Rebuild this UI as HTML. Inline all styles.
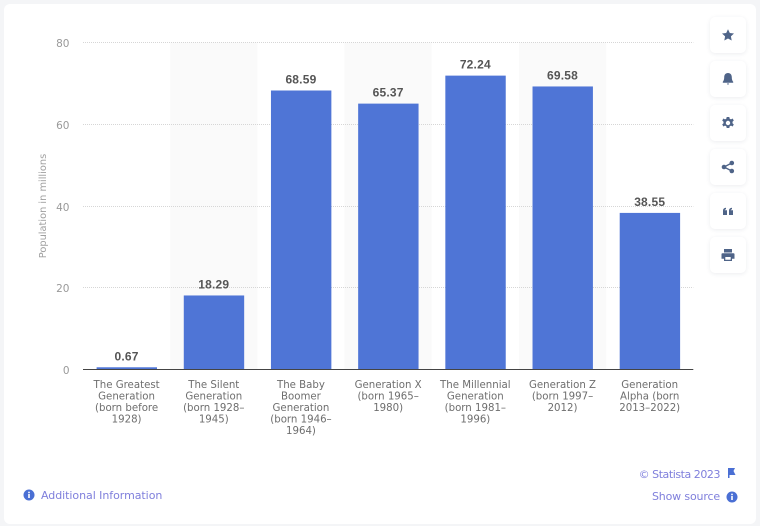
<!DOCTYPE html>
<html lang="en">
<head>
<meta charset="utf-8">
<title>Population by generation</title>
<style>
html,body{margin:0;padding:0;width:760px;height:526px;overflow:hidden;background:#f4f5f7;}
body{position:relative;font-family:"DejaVu Sans","Liberation Sans",sans-serif;}
#card{position:absolute;left:4px;top:4px;width:752px;height:520px;background:#fff;border-radius:6px;}
#chart{position:absolute;left:0;top:0;}
.btn{position:absolute;left:710px;width:36px;height:36px;background:#fff;border-radius:5px;box-shadow:0 1px 4px rgba(40,60,90,.09);}
.btn svg{position:absolute;left:9px;top:9px;width:18px;height:18px;fill:#4f6488;}
.link{position:absolute;font-size:11px;color:#7f7fdc;white-space:nowrap;line-height:14px;}
.ic{position:absolute;}
</style>
</head>
<body>
<div id="card"></div>
<svg id="chart" width="760" height="526"></svg>

<div class="btn" style="top:17px"><svg viewBox="0 0 18 18"><path d="M9 3.200l1.800 3.800 4.200.5-3.100 2.900.8 4.100L9 12.500l-3.700 2 .8-4.100L3 7.500l4.200-.5z"/></svg></div>
<div class="btn" style="top:61px"><svg viewBox="0 0 18 18"><path d="M9 3c2.600 0 3.800 2 3.800 4.200 0 2.400.7 3.600 1.400 4.600v.9H3.800v-.9c.7-1 1.400-2.200 1.400-4.600C5.200 5 6.400 3 9 3zM7.800 13.500h2.400L9 15z"/></svg></div>
<div class="btn" style="top:105px"><svg viewBox="0 0 18 18"><path fill-rule="evenodd" d="M7.700 3h2.600l.4 1.800 1.300.6 1.600-.9 1.200 2-1.300 1.300v1.400l1.300 1.300-1.200 2-1.600-.9-1.300.6-.4 1.800H7.700l-.4-1.800-1.300-.6-1.600.9-1.200-2 1.300-1.300V7.800L3.200 6.500l1.200-2 1.600.9 1.300-.6zM9 6.800a2.200 2.200 0 100 4.400 2.200 2.200 0 000-4.400z"/></svg></div>
<div class="btn" style="top:149px"><svg viewBox="0 0 18 18"><circle cx="5" cy="9" r="2.300"/><circle cx="12.800" cy="5" r="2.300"/><circle cx="12.800" cy="13" r="2.300"/><path d="M5 9l7.800-4M5 9l7.800 4" stroke="#4f6488" stroke-width="1.300" fill="none"/></svg></div>
<div class="btn" style="top:193px"><svg viewBox="0 0 18 18"><path d="M4 8.500c0-1.500 1-2.500 3-2.700v1.400c-.8.100-1.200.4-1.300 1H8V13H4zM10 8.500c0-1.500 1-2.500 3-2.700v1.400c-.8.100-1.200.4-1.300 1H14V13h-4z"/></svg></div>
<div class="btn" style="top:237px"><svg viewBox="0 0 18 18"><path fill-rule="evenodd" d="M5 3h8v3.500H5zM3.500 7.300h11c.6 0 1 .4 1 1V12.800H13V15H5v-2.200H2.500V8.300c0-.6.4-1 1-1zM6.300 11v2.800h5.400V11z"/></svg></div>

<svg class="ic" style="left:23px;top:489px" width="12" height="12" viewBox="0 0 12 12"><circle cx="6" cy="6" r="5.500" fill="#4a6fd4"/><rect x="5.200" y="5" width="1.600" height="4" fill="#fff"/><rect x="5.200" y="2.700" width="1.600" height="1.500" fill="#fff"/></svg>
<div class="link" style="left:41px;top:489px;letter-spacing:-.05px">Additional Information</div>
<div class="link" style="right:40px;top:468px;letter-spacing:-.45px">© Statista 2023</div>
<svg class="ic" style="left:727px;top:468px" width="10" height="11" viewBox="0 0 10 11"><path d="M1 0h7L6.500 3 8.500 7H2.500v3H1z" fill="#4a6fd4"/></svg>
<div class="link" style="right:40px;top:490px;letter-spacing:-.15px">Show source</div>
<svg class="ic" style="left:725.500px;top:491px" width="12" height="12" viewBox="0 0 12 12"><circle cx="6" cy="6" r="5.500" fill="#4a6fd4"/><rect x="5.200" y="5" width="1.600" height="4" fill="#fff"/><rect x="5.200" y="2.700" width="1.600" height="1.500" fill="#fff"/></svg>

<script>
const categoryLines = [
  ["The Greatest","Generation","(born before","1928)"],
  ["The Silent","Generation","(born 1928–","1945)"],
  ["The Baby","Boomer","Generation","(born 1946–","1964)"],
  ["Generation X","(born 1965–","1980)"],
  ["The Millennial","Generation","(born 1981–","1996)"],
  ["Generation Z","(born 1997–","2012)"],
  ["Generation","Alpha (born","2013–2022)"]
];
const populationValues = [0.67, 18.29, 68.59, 65.37, 72.24, 69.58, 38.55];
const yTicks = [0, 20, 40, 60, 80];
const yTitle = "Population in millions";

const NS = "http://www.w3.org/2000/svg";
const svg = document.getElementById("chart");
const plot = {left: 83, right: 693.3, top: 44, bottom: 370};
const yMax = 80;
const stepX = () => (plot.right - plot.left) / populationValues.length;
const xBand = i => plot.left + i * stepX();
const xCenter = i => xBand(i) + stepX() / 2;
const yScale = v => plot.bottom - (v / yMax) * (plot.bottom - plot.top);
const gridY = t => Math.floor(369.5 - t * 4.0875) + 0.5;

function make(tag, attrs, text) {
  const el = document.createElementNS(NS, tag);
  for (const k in attrs) el.setAttribute(k, attrs[k]);
  if (text !== undefined) el.textContent = text;
  svg.appendChild(el);
  return el;
}

populationValues.forEach((v, i) => {
  if (i % 2 === 1) {
    const band = make("rect", {x: xBand(i), y: 42.5, width: stepX(), height: 327, fill: "#fafafa"});
    
    
  }
});

yTicks.forEach(t => {
  if (t > 0) {
    const g = make("line", {x1: plot.left, x2: plot.right, y1: gridY(t), y2: gridY(t), stroke: "#d6d6d6", "stroke-width": 1, "stroke-dasharray": "1 1"});
    
    
  }
  const lab = make("text", {x: 69.5, y: gridY(t) + 4.5, "text-anchor": "end", "font-size": 10.5, fill: "#999"}, String(t));
  
  
});

const title = make("text", {transform: "translate(46,206) rotate(-90)", "text-anchor": "middle", "font-size": 9.8, fill: "#a0a0a0"}, yTitle);



populationValues.forEach((v, i) => {
  const bw = 60.4;
  const bar = make("rect", {x: xCenter(i) - bw / 2 + 0.2, y: yScale(v), width: bw, height: plot.bottom - yScale(v), fill: "#4f75d6"});
  
  
  const val = make("text", {x: xCenter(i), y: yScale(v) - 7, "text-anchor": "middle", "font-size": 12, "font-weight": "bold", "font-family": '"Liberation Sans", sans-serif', "letter-spacing": 0.2, fill: "#555"}, v.toFixed(2));
  
  
  categoryLines[i].forEach((line, j) => {
    const c = make("text", {x: xCenter(i), y: 388 + j * 11.5, "text-anchor": "middle", "font-size": 10.2, fill: "#6e6e6e"}, line);
    
    
  });
});

const axis = make("line", {x1: plot.left, x2: plot.right, y1: 369.5, y2: 369.5, stroke: "#444", "stroke-width": 1});


</script>
</body>
</html>
